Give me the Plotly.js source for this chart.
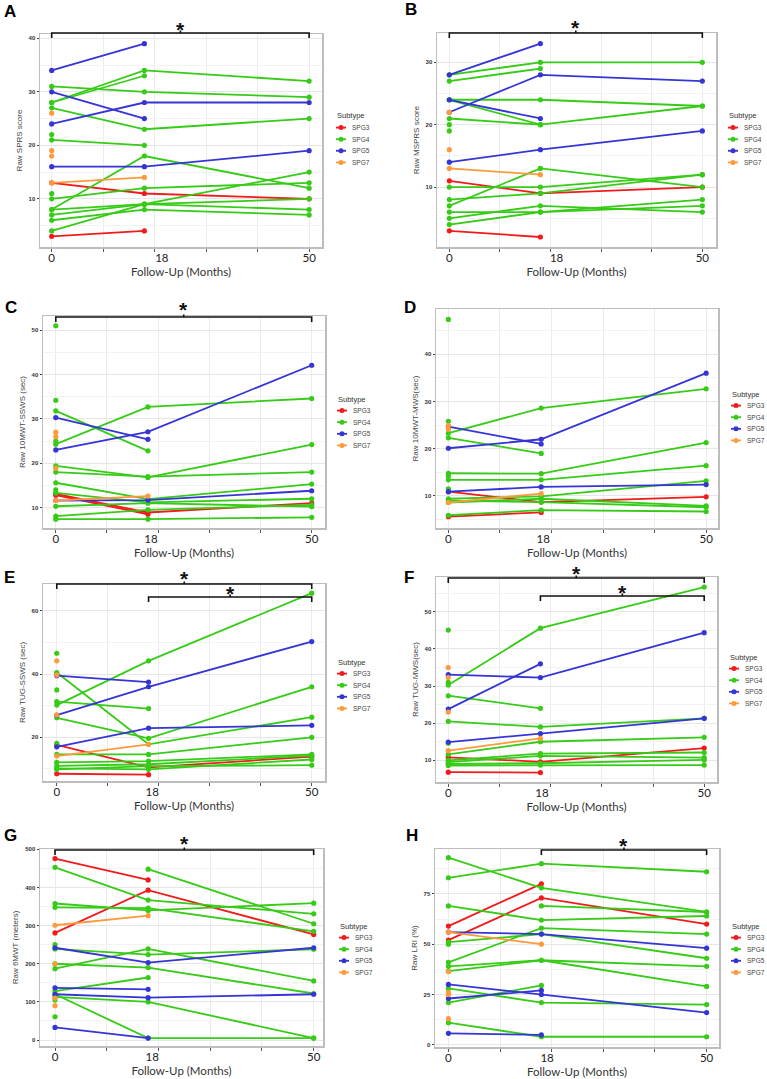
<!DOCTYPE html>
<html><head><meta charset="utf-8">
<script src="https://cdn.plot.ly/plotly-3.0.1.min.js"></script>
<style>html,body{margin:0;padding:0;background:#fff}</style>
</head><body><div id="chart" style="width:767px;height:1079px"></div>
<script>
// ---------- DATA ----------
const MONTHS = [0, 18, 50];
const X_TICK_TEXT = ['0', '18', '50'];
const SUBTYPES = ['SPG3', 'SPG4', 'SPG5', 'SPG7'];

// A: Raw SPRS score
const A_SPG3 = [[13,11,10],[3,4,null]];
const A_SPG4 = [[28,34,32],[28,33,null],[31,30,29],[27,23,25],[21,20,null],[22,null,null],[11,null,null],[10,12,13],[8,18,12],[8,9,10],[7,9,8],[6,8,7],[4,9,15]];
const A_SPG5 = [[34,39,null],[30,25,null],[24,28,28],[16,16,19]];
const A_SPG7 = [[26,null,null],[19,null,null],[18,null,null],[13,14,null]];

// B: Raw MSPRS score
const B_SPG3 = [[11,9,10],[3,2,null]];
const B_SPG4 = [[28,30,30],[27,29,null],[24,24,23],[24,20,23],[21,20,null],[20,null,null],[19,null,null],[7,13,10],[10,10,12],[8,9,12],[6,6,7],[5,7,6],[4,6,8]];
const B_SPG5 = [[28,33,null],[24,21,null],[22,28,27],[14,16,19]];
const B_SPG7 = [[22,null,null],[16,null,null],[13,12,null]];

// C: Raw 10MWT-SSWS (sec)
const C_SPG3 = [[13.1,8.9,11.0],[12.8,8.5,null]];
const C_SPG4 = [[51.0,null,null],[34.2,null,null],[31.8,22.8,null],[24.3,32.7,34.6],[25.0,null,null],[19.4,16.8,24.2],[18.0,17.0,18.0],[15.6,11.9,15.3],[14.0,null,null],[13.3,11.2,12.0],[10.3,11.0,10.2],[8.1,9.5,10.6],[7.4,7.4,7.8]];
const C_SPG5 = [[30.3,25.4,null],[23.0,27.1,42.1],[11.6,11.7,13.8]];
const C_SPG7 = [[27.0,null,null],[26.0,null,null],[18.9,null,null],[11.6,12.6,null]];

// D: Raw 10MWT-MWS (sec)
const D_SPG3 = [[10.9,8.7,9.8],[5.6,6.5,null]];
const D_SPG4 = [[47.4,null,null],[25.8,null,null],[23.3,28.6,32.7],[22.3,19.0,null],[14.8,14.7,21.3],[14.2,null,null],[13.4,13.4,16.4],[11.5,null,null],[9.4,9.9,13.2],[8.6,9.4,7.9],[9.0,8.7,7.6],[5.9,7.0,6.7]];
const D_SPG5 = [[24.7,21.0,null],[20.1,22.0,36.0],[10.9,11.9,12.4]];
const D_SPG7 = [[24.9,null,null],[24.1,null,null],[8.6,10.5,null]];

// E: Raw TUG-SSWS (sec)
const E_SPG3 = [[17.6,10.5,13.9],[8.5,8.2,null]];
const E_SPG4 = [[46.6,null,null],[40.5,17.8,26.4],[35.0,null,null],[31.3,29.1,null],[30.2,44.2,65.6],[26.2,19.7,36.0],[18.1,null,null],[14.6,14.6,20.0],[12.1,12.5,14.6],[11.0,11.5,14.2],[10.2,9.9,13.0],[9.9,10.9,11.2]];
const E_SPG5 = [[39.5,37.5,null],[27.0,36.0,50.3],[17.0,22.9,23.8]];
const E_SPG7 = [[44.2,null,null],[39.7,null,null],[27.1,null,null],[14.1,17.8,null]];

// F: Raw TUG-MWS (sec)
const F_SPG3 = [[10.8,9.6,13.3],[6.8,6.7,null]];
const F_SPG4 = [[45.1,null,null],[30.3,45.6,56.7],[31.0,null,null],[27.4,24.0,null],[20.5,19.0,21.3],[14.6,null,null],[11.6,15.0,16.2],[10.0,11.8,12.1],[9.5,11.2,10.7],[9.0,9.2,10.1],[8.6,8.7,8.7]];
const F_SPG5 = [[33.1,32.3,44.4],[23.8,36.0,null],[14.9,17.2,21.3]];
const F_SPG7 = [[35.0,null,null],[32.3,null,null],[23.0,null,null],[12.6,15.9,null]];

// G: Raw 6MWT (meters)
const G_SPG3 = [[476,420,null],[281,393,277]];
const G_SPG4 = [[453,367,331],[null,448,305],[358,340,359],[348,346,285],[250,null,null],[239,224,238],[187,239,155],[200,190,122],[128,164,null],[113,100,5],[120,5,5],[105,null,null],[61,null,null]];
const G_SPG5 = [[242,203,242],[137,133,null],[120,111,120],[33,5,null]];
const G_SPG7 = [[301,326,null],[200,null,null],[110,null,null],[90,null,null]];

// H: Raw LRI (%)
const H_SPG3 = [[59,80,null],[52,73,60]];
const H_SPG4 = [[93,78,66],[83,90,86],[69,62,64],[null,69,66],[41,58,55],[51,55,43],[50,null,null],[39,42,39],[36.6,42,29],[21,29.5,null],[28,21,20],[11,4,4]];
const H_SPG5 = [[56,55,48],[30,25,16],[23,27,null],[5.7,4.9,null]];
const H_SPG7 = [[56,50,null],[36.4,null,null],[26,null,null],[25,null,null],[13,null,null]];

// ---------- STYLE / LAYOUT CONFIG ----------
const COLORS = {SPG3:'#F21A1A', SPG4:'#36CB16', SPG5:'#3535D6', SPG7:'#FF9A3C'};
const W = 767, HH = 1079;
const px2x = p => p / W;
const px2y = p => 1 - p / HH;

const PANELS = [
 {id:'A', title:'Raw SPRS score', data:{SPG3:A_SPG3,SPG4:A_SPG4,SPG5:A_SPG5,SPG7:A_SPG7}, box:[40,322,34,247], xr:[-2.27,52.5], yr:[1.0,40.8], dt:10, t18:21.4, letter:[10,11], brackets:[[0,50,33,24]], legend:[335,116]},
 {id:'B', title:'Raw MSPRS score', data:{SPG3:B_SPG3,SPG4:B_SPG4,SPG5:B_SPG5,SPG7:B_SPG7}, box:[437,716,33,247], xr:[-2.43,52.7], yr:[0.4,34.7], dt:10, t18:21.2, letter:[411,10], brackets:[[0,50,33,22]], legend:[727,116]},
 {id:'C', title:'Raw 10MWT-SSWS (sec)', data:{SPG3:C_SPG3,SPG4:C_SPG4,SPG5:C_SPG5,SPG7:C_SPG7}, box:[43,325,316,528], xr:[-2.5,52.6], yr:[5.4,53.2], dt:10, t18:18.6, letter:[11,307], brackets:[[0,50,317,304]], legend:[336,399]},
 {id:'D', title:'Raw 10MWT-MWS(sec)', data:{SPG3:D_SPG3,SPG4:D_SPG4,SPG5:D_SPG5,SPG7:D_SPG7}, box:[436,718,309,528], xr:[-2.4,52.3], yr:[3.2,49.6], dt:10, t18:18.4, letter:[410,307], brackets:[], legend:[730,394]},
 {id:'E', title:'Raw TUG-SSWS (sec)', data:{SPG3:E_SPG3,SPG4:E_SPG4,SPG5:E_SPG5,SPG7:E_SPG7}, box:[43,325,584,781], xr:[-2.7,52.6], yr:[6.2,68.5], dt:20, t18:18.7, letter:[9,577], brackets:[[0,50,584,573],[18,50,597,588]], legend:[336,662]},
 {id:'F', title:'Raw TUG-MWS(sec)', data:{SPG3:F_SPG3,SPG4:F_SPG4,SPG5:F_SPG5,SPG7:F_SPG7}, box:[436,717,577,782], xr:[-2.4,52.5], yr:[4.15,59.4], dt:10, t18:18.3, letter:[409,577], brackets:[[0,50,578,568],[18,50,596,587]], legend:[728,657]},
 {id:'G', title:'Raw 6MWT (meters)', data:{SPG3:G_SPG3,SPG4:G_SPG4,SPG5:G_SPG5,SPG7:G_SPG7}, box:[40,323,849,1046], xr:[-2.9,51.8], yr:[-15.7,501], dt:100, t18:18.8, letter:[10,835], brackets:[[0,50,850,838]], legend:[338,926]},
 {id:'H', title:'Raw LRI (%)', data:{SPG3:H_SPG3,SPG4:H_SPG4,SPG5:H_SPG5,SPG7:H_SPG7}, box:[435,719,849,1047], xr:[-2.6,52.4], yr:[-1.1,97.3], dt:25, t18:19.1, letter:[412,835], brackets:[[18,50,850,840]], legend:[730,926]}
];

const traces = [], shapes = [], annotations = [];
const layout = {
  width: W, height: HH, margin:{l:0,r:0,t:0,b:0},
  paper_bgcolor:'#ffffff', plot_bgcolor:'#ffffff', showlegend:false,
  font:{family:'Liberation Sans, Arial, sans-serif', color:'#333'}
};

const BORDER = '#bdbdbd';
PANELS.forEach((p, i) => {
  const n = i + 1, sfx = n === 1 ? '' : String(n);
  const xa = 'x' + sfx, ya = 'y' + sfx;
  SUBTYPES.forEach(s => {
    p.data[s].forEach(row => {
      traces.push({type:'scatter', mode:'lines+markers', x: MONTHS, y: row,
        xaxis: xa, yaxis: ya, line:{color: COLORS[s], width:1.8},
        marker:{color: COLORS[s], size:5.2}, hoverinfo:'skip', showlegend:false});
    });
  });
  const [l, r, t, b] = p.box;
  layout['xaxis' + sfx] = {
    domain:[px2x(l), px2x(r)], range:p.xr, anchor: ya,
    tickmode:'array', tickvals:[0, p.t18, 50], ticktext: X_TICK_TEXT,
    ticks:'', showgrid:false, zeroline:false,
    tickfont:{family:'Lato, Open Sans, sans-serif', size:11.5, color:'#222'},
    minor:{tickmode:'array', tickvals:[0,10,20,30,40,50], ticks:'outside', ticklen:3, tickcolor:'#555', showgrid:true, gridcolor:'#ebebeb', gridwidth:1},
    showline:true, mirror:true, linecolor:BORDER, linewidth:1.5,
    title:{text:'Follow-Up (Months)', font:{family:'Lato, Open Sans, sans-serif', size:11.5, color:'#333'}, standoff:4},
    fixedrange:true
  };
  layout['yaxis' + sfx] = {
    domain:[px2y(b), px2y(t)], range:p.yr, anchor: xa,
    tickmode:'linear', tick0:0, dtick:p.dt, ticks:'outside', ticklen:2, tickcolor:'#444',
    tickfont:{family:'Liberation Sans, Arial, sans-serif', size:6, color:'#333', weight:'bold'},
    showgrid:true, gridcolor:'#e6e6e6', gridwidth:1, zeroline:false,
    minor:{tick0:0, dtick:p.dt/2, showgrid:true, gridcolor:'#f3f3f3', gridwidth:1},
    showline:true, mirror:true, linecolor:BORDER, linewidth:1.5,
    title:{text:p.title, font:{family:'Liberation Sans, Arial, sans-serif', size:8, color:'#444'}, standoff:5},
    fixedrange:true
  };
  // panel letter
  annotations.push({xref:'paper', yref:'paper', x:px2x(p.letter[0]), y:px2y(p.letter[1]), text:p.id,
    showarrow:false, xanchor:'center', yanchor:'middle',
    font:{family:'Liberation Sans, Arial, sans-serif', size:17, color:'#000', weight:'bold'}});
  // significance brackets
  p.brackets.forEach(([x0, x1, yb, ys]) => {
    const xm = (x0 + x1) / 2;
    const yB = px2y(yb), yD = px2y(yb + 5), yU = px2y(yb - 2.5);
    shapes.push({type:'path', xref:xa, yref:'paper', layer:'above',
      path:`M ${x0},${yD} L ${x0},${yB} L ${x1},${yB} L ${x1},${yD} M ${xm},${yB} L ${xm},${yU}`,
      line:{color:'#111', width:1.6}});
    annotations.push({xref:xa, yref:'paper', x:xm, y:px2y(ys + 5), text:'*', showarrow:false,
      xanchor:'center', yanchor:'middle',
      font:{family:'Liberation Sans, Arial, sans-serif', size:21, color:'#111', weight:'bold'}});
  });
  // legend (Subtype)
  const [L, T] = p.legend;
  annotations.push({xref:'paper', yref:'paper', x:px2x(L), y:px2y(T), text:'Subtype', showarrow:false,
    xanchor:'left', yanchor:'middle', font:{family:'Liberation Sans, Arial, sans-serif', size:7.5, color:'#333'}});
  SUBTYPES.forEach((s, k) => {
    const yy = T + 11.6 * (k + 1);
    shapes.push({type:'line', xref:'paper', yref:'paper', x0:px2x(L + 1), x1:px2x(L + 11), y0:px2y(yy), y1:px2y(yy), line:{color:COLORS[s], width:1.8}});
    shapes.push({type:'circle', xref:'paper', yref:'paper', x0:px2x(L + 3.5), x1:px2x(L + 8.5), y0:px2y(yy + 2.5), y1:px2y(yy - 2.5), fillcolor:COLORS[s], line:{width:0}});
    annotations.push({xref:'paper', yref:'paper', x:px2x(L + 15), y:px2y(yy), text:s, showarrow:false,
      xanchor:'left', yanchor:'middle', font:{family:'Liberation Sans, Arial, sans-serif', size:6.5, color:'#444'}});
  });
});
layout.shapes = shapes;
layout.annotations = annotations;

Plotly.newPlot('chart', traces, layout, {staticPlot:true, displayModeBar:false});
</script></body></html>
